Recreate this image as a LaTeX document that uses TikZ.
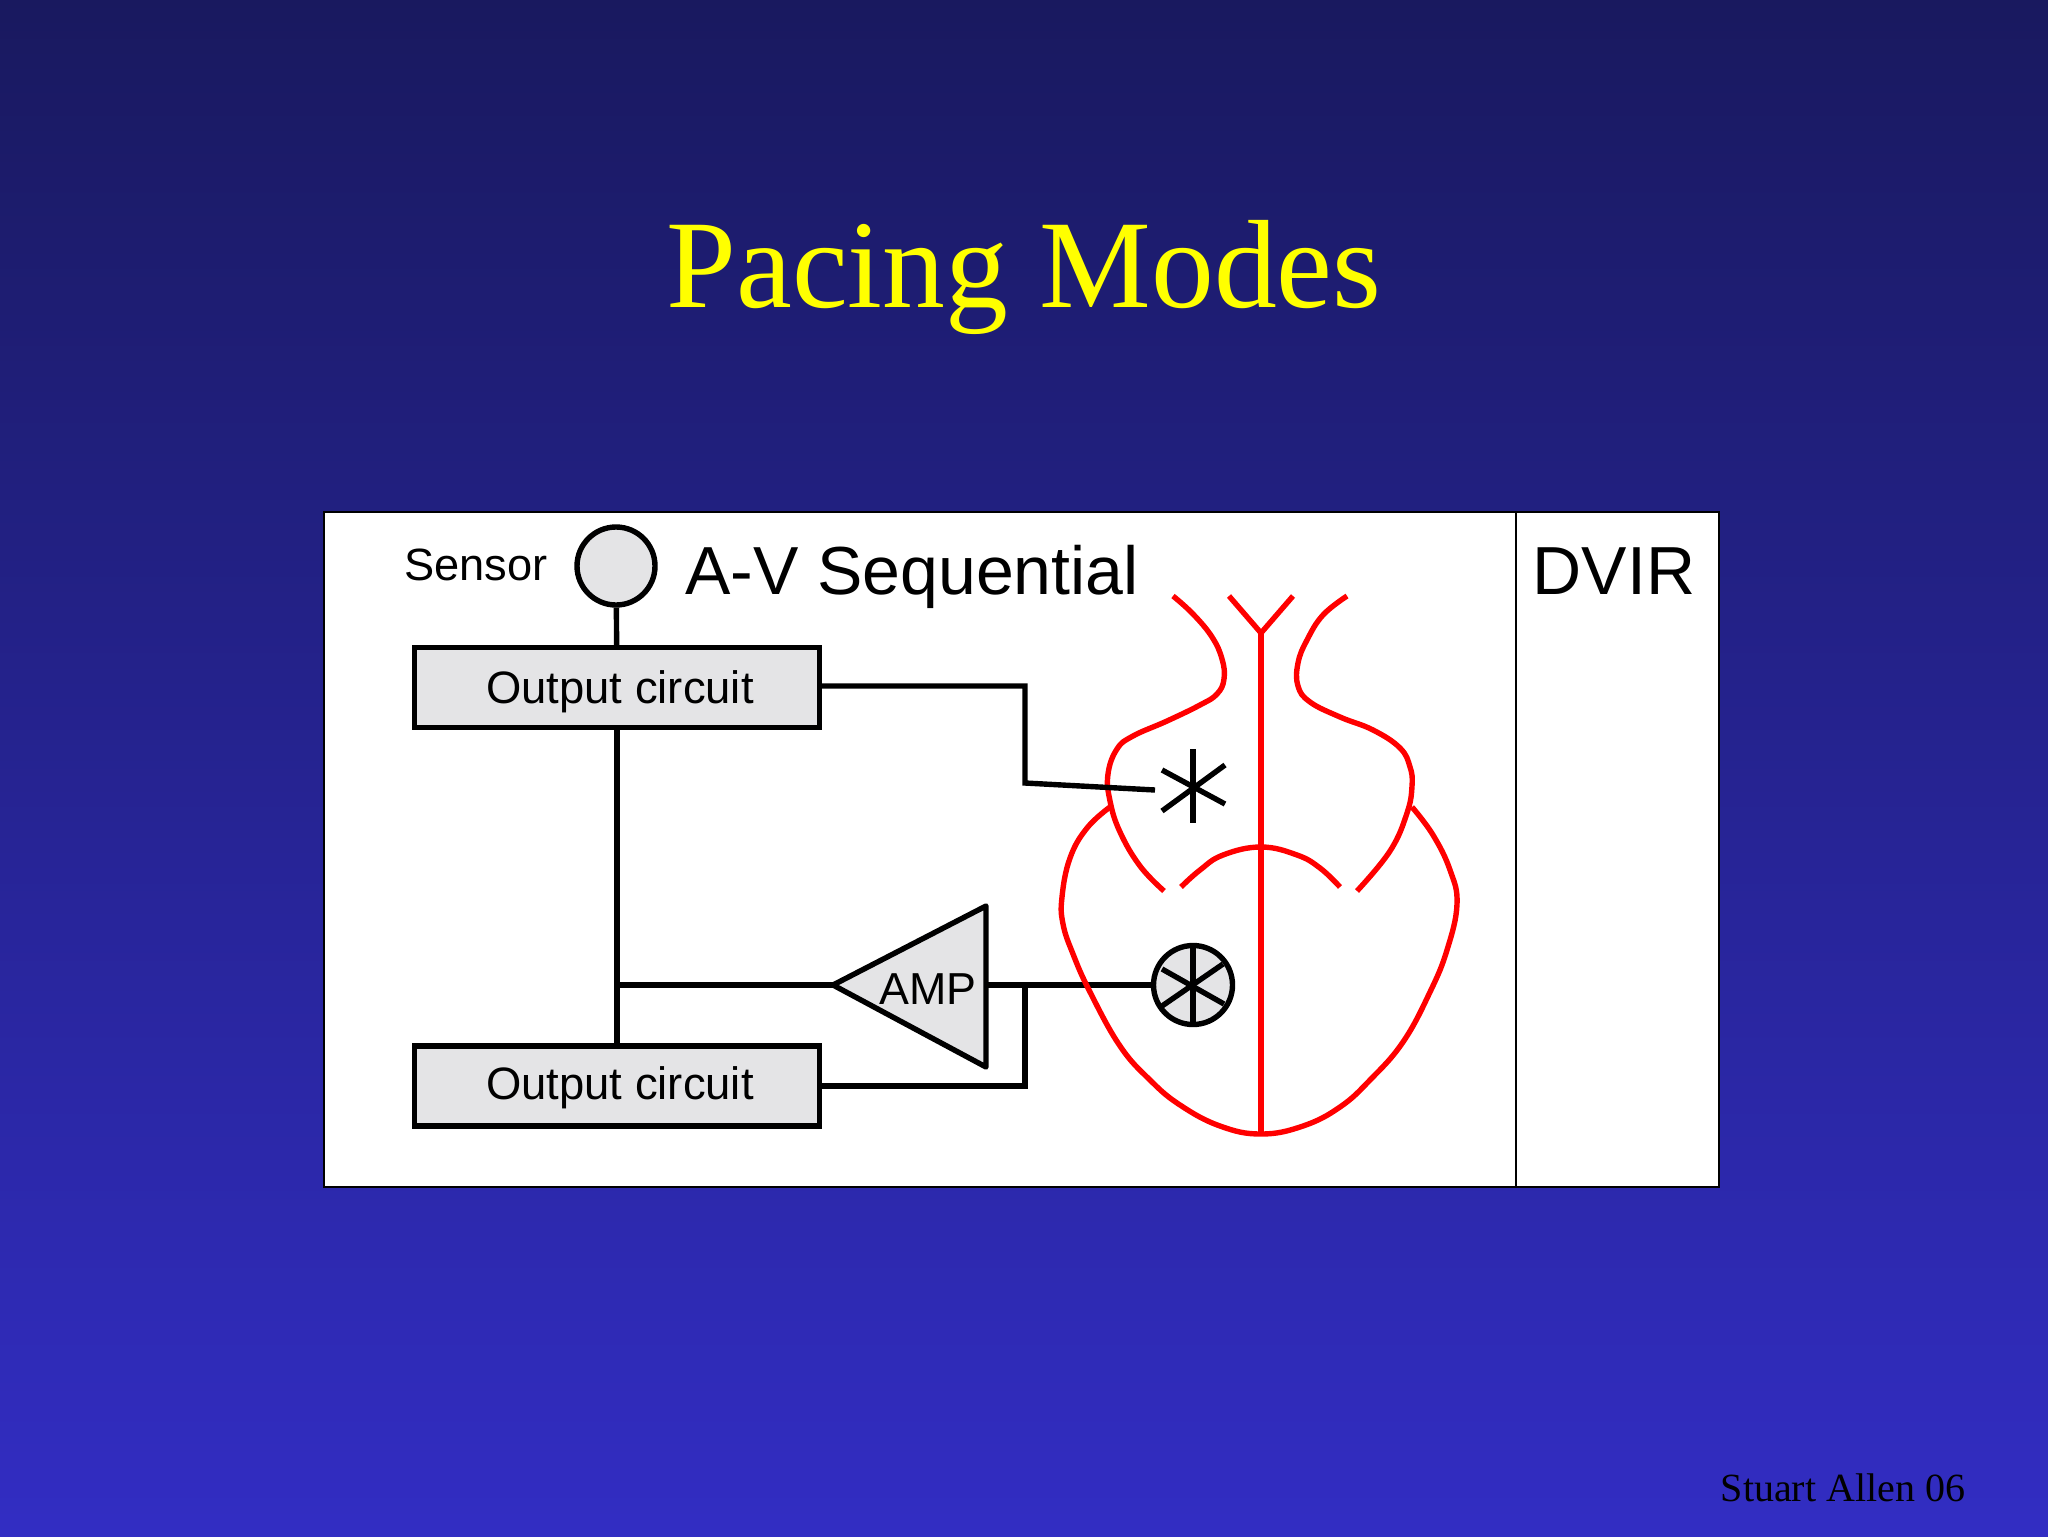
\documentclass[tikz,border=0pt]{standalone}
\usepackage{tikz, xcolor}
\usepackage{fontspec}
\setmainfont{Liberation Sans}
\newfontfamily\serifface{Liberation Serif}
\definecolor{slidetop}{RGB}{25,25,95}
\definecolor{slidebot}{RGB}{50,45,195}
\definecolor{boxgray}{RGB}{228,228,230}
\definecolor{heartred}{RGB}{255,0,0}
\definecolor{titleyellow}{RGB}{255,255,0}

\begin{document}
\begin{tikzpicture}[x=0.5pt, y=-0.5pt]
\tikzstyle{vertexr}=[rectangle, draw=black, fill=boxgray, line width=2.6pt, minimum width=202.5pt, minimum height=40pt, inner sep=0pt]
\tikzstyle{vertexc}=[circle, draw=black, fill=boxgray, line width=2.7pt, inner sep=0pt]
\tikzstyle{labelstyle}=[inner sep=0pt, anchor=base, text=black]
\tikzstyle{drawstyle}=[line width=2.7pt, black, line join=miter]
\tikzstyle{heartstyle}=[line width=2.7pt, heartred, line join=round]

\useasboundingbox (0,0) rectangle (2048,1536);
\shade[top color=slidetop, bottom color=slidebot] (0,0) rectangle (2048,1536);
\node[labelstyle, font=\serifface\fontsize{62.8}{70}\selectfont, text=titleyellow] (Title) at (1024,307) {Pacing Modes};
\node[labelstyle, font=\serifface\fontsize{20}{24}\selectfont] (Credit) at (1843,1501) {Stuart Allen 06};

\draw[line width=1.4pt, draw=black, fill=white] (324,512) rectangle (1719,1187);
\coordinate (Ptop) at (1516,512);
\coordinate (Pbot) at (1516,1187);
\draw[line width=1.4pt] (Ptop) -- (Pbot);

\node[labelstyle, font=\fontsize{22.6}{26}\selectfont] (Sensorlabel) at (476,580) {Sensor};
\node[labelstyle, font=\fontsize{34}{40}\selectfont] (Modelabel) at (912,594) {A-V Sequential};
\node[labelstyle, font=\fontsize{34}{40}\selectfont] (Codelabel) at (1614,594) {DVIR};

\node[vertexc, minimum size=39pt] (Sensor) at (616,566) {};
\node[vertexr] (Out1) at (617,687.5) {};
\node[vertexr] (Out2) at (617,1086) {};
\node[labelstyle, font=\fontsize{22.7}{26}\selectfont] (Out1label) at (620,703) {Output circuit};
\node[labelstyle, font=\fontsize{22.7}{26}\selectfont] (Out2label) at (620,1099) {Output circuit};
\coordinate (Tapex) at (833,985);
\coordinate (Ttop) at (986,906);
\coordinate (Tbot) at (986,1067);
\coordinate (Tout) at (986,985);
\coordinate (Jin) at (615,985);
\coordinate (Jout) at (1025,985);
\draw[drawstyle, fill=boxgray, line join=round] (Tapex) -- (Ttop) -- (Tbot) -- cycle;
\node[labelstyle, font=\fontsize{22.4}{26}\selectfont] (Amp) at (928,1004) {AMP};

\node[vertexc, minimum size=39.5pt] (Pace) at (1193,985) {};
\coordinate (P1a) at (1193,945);
\coordinate (P1b) at (1193,1027);
\coordinate (P2a) at (1162,969);
\coordinate (P2b) at (1224,1004);
\coordinate (P3a) at (1162,1006);
\coordinate (P3b) at (1223,964);
\draw[drawstyle] (P1a) -- (P1b);
\draw[drawstyle] (P2a) -- (P2b);
\draw[drawstyle] (P3a) -- (P3b);

\draw[drawstyle] (Sensor) -- (Out1);
\draw[drawstyle] (Out1) -- (Out2);
\draw[drawstyle] (Jin) -- (Tapex);
\draw[drawstyle] (Tout) -- (Pace);
\draw[drawstyle] (Jout) |- (Out2);

\draw[heartstyle] plot[smooth, tension=0.7] coordinates {(1173,596) (1193,614) (1212,637) (1222,659) (1224,679) (1217,694) (1200,705) (1167,721) (1133,736) (1117,749) (1108,774) (1110,801) (1120,832) (1140,866) (1164,891)};
\draw[heartstyle] plot[smooth, tension=0.7] coordinates {(1347,596) (1323,615) (1307,640) (1298,663) (1298,686) (1310,702) (1340,717) (1373,730) (1400,748) (1410,767) (1412,786) (1407,813) (1390,851) (1357,891)};
\draw[heartstyle] plot[smooth, tension=0.7] coordinates {(1181,887) (1200,870) (1223,855) (1261,847) (1297,855) (1320,868) (1340,887)};
\draw[heartstyle] plot[smooth, tension=0.7] coordinates {(1110,807) (1087,828) (1070,858) (1062,897) (1063,924) (1073,954) (1090,992) (1120,1046) (1150,1080) (1180,1105) (1220,1126) (1261,1134) (1303,1126) (1340,1107) (1370,1080) (1403,1042) (1430,992) (1447,950) (1457,904) (1450,870) (1433,835) (1412,807)};
\coordinate (Sept1) at (1261,633);
\coordinate (Sept2) at (1261,1134);
\coordinate (Yl) at (1229,596);
\coordinate (Yr) at (1293,596);
\draw[heartstyle] (Sept1) -- (Sept2);
\draw[heartstyle] (Yl) -- (Sept1) -- (Yr);

\coordinate (S1a) at (1193,749);
\coordinate (S1b) at (1193,823);
\coordinate (S2a) at (1162,770);
\coordinate (S2b) at (1225,804);
\coordinate (S3a) at (1162,811);
\coordinate (S3b) at (1225,765);
\draw[drawstyle] (S1a) -- (S1b);
\draw[drawstyle] (S2a) -- (S2b);
\draw[drawstyle] (S3a) -- (S3b);
\coordinate (Lcorner) at (1025,783);
\coordinate (Lend) at (1155,790);
\draw[drawstyle] (Out1.east |- 0,686) -| (Lcorner) -- (Lend);
\end{tikzpicture}
\end{document}
